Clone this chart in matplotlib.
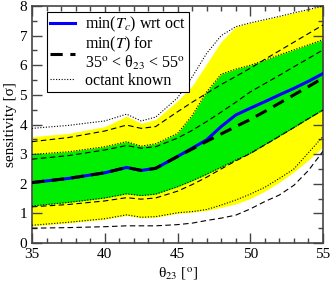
import matplotlib
matplotlib.use('Agg')
import matplotlib.pyplot as plt
import numpy as np

plt.rcParams['font.family'] = ['Liberation Serif', 'DejaVu Serif']
plt.rcParams['mathtext.fontset'] = 'stix'

# theta_23 grid (degrees)
theta = [35, 37.5, 40, 41.5, 42.5, 43.5, 45, 46, 47, 48, 49, 50, 51, 52, 53, 54, 55]

# min(T_c) wrt octant (blue) and min(T) for 35 < theta < 55 (thick dashed)
tc_min = [2.04, 2.18, 2.37, 2.55, 2.45, 2.52, 2.92, 3.2, 3.48, 3.93, 4.32, 4.55, 4.77, 5.0, 5.22, 5.46, 5.72]
t_min = [2.04, 2.18, 2.37, 2.55, 2.45, 2.52, 2.92, 3.17, 3.43, 3.68, 3.93, 4.17, 4.44, 4.72, 5.0, 5.28, 5.57]

# bands
green_hi = [2.99, 3.08, 3.25, 3.42, 3.27, 3.35, 3.7, 4.3, 5.1, 5.7, 5.87, 6.0, 6.17, 6.35, 6.52, 6.69, 6.86]
green_lo = [1.25, 1.37, 1.52, 1.66, 1.6, 1.65, 1.9, 2.1, 2.32, 2.56, 2.8, 3.03, 3.32, 3.61, 3.9, 4.2, 4.49]
yellow_hi = [3.59, 3.7, 3.93, 4.28, 4.04, 4.17, 4.8, 5.3, 6.05, 6.8, 7.3, 7.43, 7.54, 7.65, 7.77, 7.88, 8.0]
yellow_lo = [0.57, 0.68, 0.8, 0.93, 0.85, 0.87, 1.0, 1.04, 1.1, 1.2, 1.32, 1.5, 1.75, 2.05, 2.4, 2.8, 3.25]

# thin dashed lines (min(T) range)
dash_hi2 = [3.42, 3.56, 3.78, 3.98, 3.87, 3.93, 4.43, 4.75, 5.05, 5.35, 5.62, 5.9, 6.2, 6.49, 6.78, 7.07, 7.36]
dash_hi1 = [2.83, 2.95, 3.14, 3.29, 3.2, 3.25, 3.54, 3.8, 4.1, 4.42, 4.75, 5.1, 5.38, 5.66, 5.95, 6.23, 6.52]
dash_lo1 = [1.22, 1.3, 1.42, 1.53, 1.48, 1.52, 1.75, 1.97, 2.22, 2.5, 2.77, 3.02, 3.31, 3.6, 3.9, 4.2, 4.49]
dash_lo2 = [0.5, 0.52, 0.55, 0.58, 0.58, 0.58, 0.62, 0.67, 0.76, 0.84, 0.94, 1.15, 1.4, 1.62, 1.95, 2.45, 3.1]

# dotted lines (octant known)
dot_hi2 = [3.87, 3.97, 4.12, 4.35, 4.12, 4.25, 4.9, 5.6, 6.4, 7.0, 7.3, 7.43, 7.54, 7.65, 7.77, 7.88, 8.0]
dot_hi1 = green_hi
dot_lo1 = green_lo
dot_lo2 = [0.6, 0.7, 0.82, 0.95, 0.87, 0.89, 1.02, 1.06, 1.13, 1.28, 1.45, 1.65, 1.88, 2.18, 2.5, 3.05, 3.6]

fig = plt.figure(figsize=(3.32, 2.87), dpi=100)
ax = fig.add_axes([0.0964, 0.1533, 0.8766, 0.8258])

ax.fill_between(theta, yellow_lo, yellow_hi, color='#ffff00', lw=0, zorder=1)
ax.fill_between(theta, green_lo, green_hi, color='#00ee00', lw=0, zorder=2)

for y in [dash_hi2, dash_hi1, dash_lo1, dash_lo2]:
    ax.plot(theta, y, color='black', lw=0.8, dashes=(5, 3), zorder=3)
for y in [dot_hi2, dot_hi1, dot_lo1, dot_lo2]:
    ax.plot(theta, y, color='black', lw=0.8, dashes=(1, 1.5), zorder=3)

ax.plot(theta, tc_min, color='#0000ff', lw=2.2, zorder=4, label=r'min($T_c$) wrt oct')
ax.plot(theta, t_min, color='black', lw=2.2, dashes=(4, 2.5), zorder=5,
        label='min($T$) for\n35$^{\\rm o}$ < θ$_{23}$ < 55$^{\\rm o}$')
ax.plot([], [], color='black', lw=0.8, dashes=(1, 1.5), label='octant known')

ax.set_xlim(35, 55)
ax.set_ylim(0, 8)
ax.set_xticks([35, 40, 45, 50, 55])
ax.set_xticks(np.arange(35, 55.1, 1), minor=True)
ax.set_yticks(range(0, 9))
ax.set_yticks(np.arange(0, 8.01, 0.5), minor=True)
ax.tick_params(which='both', direction='in', top=True, right=True, labelsize=11, colors='#444444', labelcolor='black')
ax.tick_params(which='major', length=7, width=1)
ax.tick_params(which='minor', length=3.5, width=1)
for s in ax.spines.values():
    s.set_color('#444444')
    s.set_linewidth(1.2)

ax.set_xlabel('θ$_{23}$ [$^{\\rm o}$]', fontsize=11, labelpad=3)
ax.set_ylabel('sensitivity [σ]', fontsize=11, labelpad=2)

leg = ax.legend(loc='upper left', bbox_to_anchor=(0.05, 0.975), fontsize=11.5, frameon=True,
                fancybox=False, edgecolor='black', framealpha=1, handlelength=1.6,
                handletextpad=0.6, borderpad=0.2, labelspacing=0.05, borderaxespad=0)
leg.get_frame().set_linewidth(0.8)
for t in leg.get_texts():
    t.set_linespacing(0.95)

fig.savefig('out.png', dpi=100)
